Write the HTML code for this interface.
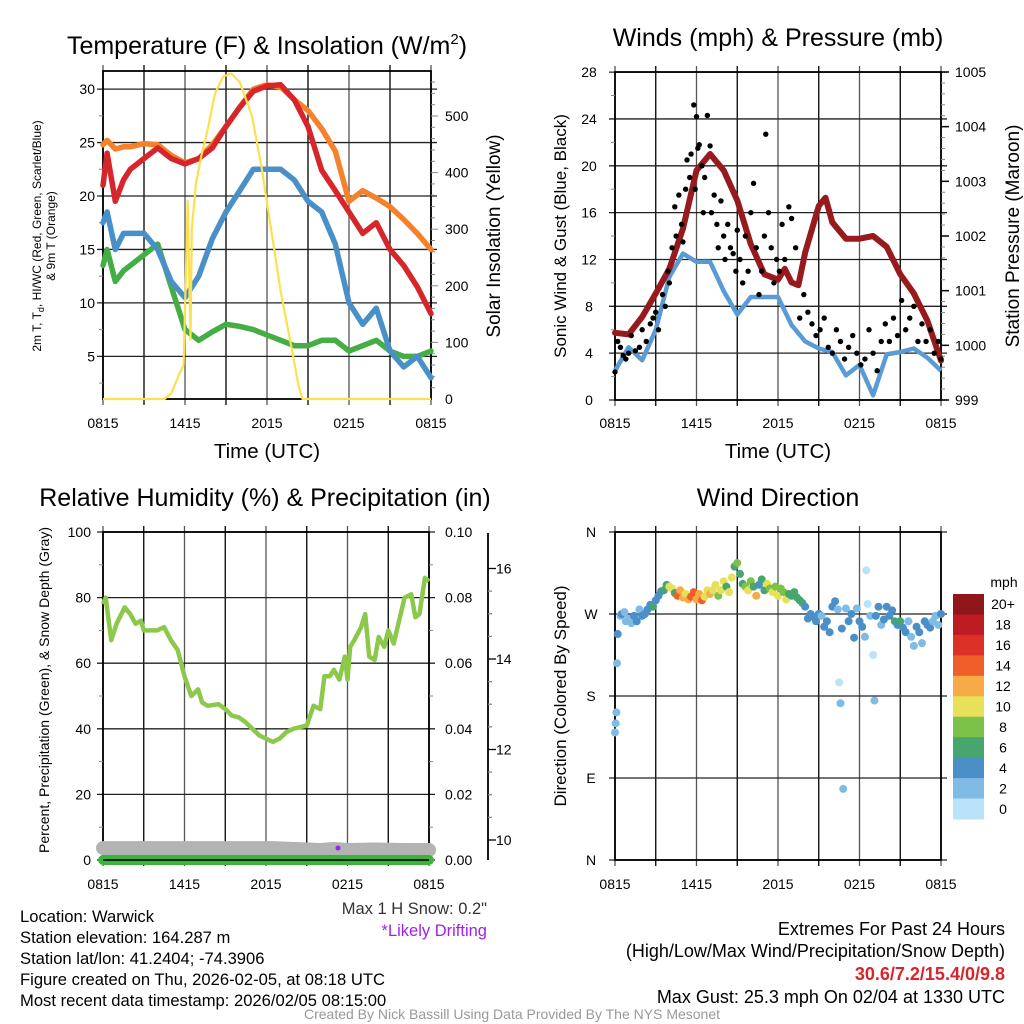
<!DOCTYPE html>
<html><head><meta charset="utf-8">
<style>
html,body{margin:0;padding:0;background:#fff;}
svg{display:block;font-family:"Liberation Sans",sans-serif;}
</style></head>
<body>
<svg id="s" width="1024" height="1024" viewBox="0 0 1024 1024" xmlns="http://www.w3.org/2000/svg">
<text x="267" y="54" font-size="25" text-anchor="middle">Temperature (F) &amp; Insolation (W/m<tspan font-size="15" dy="-10">2</tspan><tspan dy="10">)</tspan></text>
<text x="778" y="46" font-size="25" text-anchor="middle">Winds (mph) &amp; Pressure (mb)</text>
<text x="265" y="506" font-size="25" text-anchor="middle">Relative Humidity (%) &amp; Precipitation (in)</text>
<text x="778" y="506" font-size="25" text-anchor="middle">Wind Direction</text>

<text x="267" y="458" font-size="20.5" text-anchor="middle">Time (UTC)</text>
<text x="778" y="458" font-size="20.5" text-anchor="middle">Time (UTC)</text>

<text transform="translate(41,236) rotate(-90)" font-size="12" text-anchor="middle">2m T, T<tspan font-size="9" dy="3">d</tspan><tspan dy="-3">, HI/WC (Red, Green, Scarlet/Blue)</tspan></text>
<text transform="translate(55,236) rotate(-90)" font-size="12" text-anchor="middle">&amp; 9m T (Orange)</text>
<text transform="translate(500,236) rotate(-90)" font-size="19" text-anchor="middle">Solar Insolation (Yellow)</text>
<text transform="translate(566,236) rotate(-90)" font-size="17" text-anchor="middle">Sonic Wind &amp; Gust (Blue, Black)</text>
<text transform="translate(1019,236) rotate(-90)" font-size="19" text-anchor="middle">Station Pressure (Maroon)</text>
<text transform="translate(49,690) rotate(-90)" font-size="14" text-anchor="middle">Percent, Precipitation (Green), &amp; Snow Depth (Gray)</text>
<text transform="translate(566,696) rotate(-90)" font-size="17" text-anchor="middle">Direction (Colored By Speed)</text>

<g font-size="16.6">
<text x="20" y="922">Location: Warwick</text>
<text x="20" y="943">Station elevation: 164.287 m</text>
<text x="20" y="964">Station lat/lon: 41.2404; -74.3906</text>
<text x="20" y="985">Figure created on Thu, 2026-02-05, at 08:18 UTC</text>
<text x="20" y="1006">Most recent data timestamp: 2026/02/05 08:15:00</text>
</g>
<text x="487" y="914" font-size="16.5" fill="#333" text-anchor="end">Max 1 H Snow: 0.2"</text>
<text x="487" y="936" font-size="16.5" fill="#a020f0" text-anchor="end">*Likely Drifting</text>
<g font-size="18" text-anchor="end">
<text x="1005" y="935">Extremes For Past 24 Hours</text>
<text x="1005" y="957">(High/Low/Max Wind/Precipitation/Snow Depth)</text>
<text x="1005" y="980" font-weight="bold" fill="#d7262b">30.6/7.2/15.4/0/9.8</text>
<text x="1005" y="1003">Max Gust: 25.3 mph On 02/04 at 1330 UTC</text>
</g>
<text x="512" y="1019" font-size="14" fill="#999" text-anchor="middle">Created By Nick Bassill Using Data Provided By The NYS Mesonet</text>
<g id="plots"></g>
</svg>
<script>
// ---------- DATA ----------
const timeLabels = ["0815","1415","2015","0215","0815"];
const tempHours = [0,0.3,0.9,1.5,2,3,4,5,6,7,8,9,10,11,12,13,14,15,16,17,18,19,20,21,22,23,24];
const temp9m = [24.8,25.2,24.4,24.6,24.6,24.9,24.8,23.8,23.1,23.5,24.8,26.5,28.3,30.0,30.4,30.2,29.0,28.0,26.3,24.2,19.5,20.5,19.8,19.0,17.8,16.5,15.0];
const temp2m = [21.0,24.0,19.5,21.5,22.5,23.5,24.5,23.5,23.0,23.5,24.5,26.5,28.3,29.8,30.3,30.4,29.0,26.5,22.4,20.5,18.5,16.5,17.5,15.0,13.5,11.5,9.0];
const hiwc = [17.5,18.5,15.0,16.5,16.5,16.5,15.0,12.0,10.5,12.5,16.0,18.5,20.5,22.5,22.5,22.5,21.5,19.5,18.5,15.5,10.0,8.0,9.5,5.5,4.0,5.0,3.0];
const dewpt = [13.5,15.0,12.0,13.0,13.5,14.5,15.5,11.5,7.5,6.5,7.3,8.0,7.8,7.5,7.0,6.5,6.0,6.0,6.5,6.5,5.5,6.0,6.5,5.5,5.0,5.0,5.5];
const solarHours = [0,4.5,5.0,5.6,5.9,6.2,6.4,6.5,6.8,7.2,7.6,8.2,8.8,9.4,10.0,10.9,11.6,12.3,13.0,13.8,14.3,14.6,24];
const solarValues = [0,0,10,45,60,350,105,300,380,430,470,540,570,575,560,500,410,300,190,90,25,0,0];

const windHours = [0,1,2,3,4,5,6,7,8,9,10,11,12,13,14,15,16,17,18,19,20,21,22,23,24];
const sonicWind = [2.5,4.5,3.4,6.0,10.5,12.5,11.8,11.8,9.3,7.3,8.8,8.8,8.8,6.4,5.0,4.4,4.1,2.1,3.0,0.4,3.9,4.1,4.4,3.6,2.5];
const presHours = [0,1,2,3,4,5,6,7,8,9,10,11,12,12.5,13,13.5,14,15,15.5,16,17,18,19,20,21,22,23,24];
const pressure = [1000.23,1000.2,1000.52,1000.95,1001.4,1002.13,1003.2,1003.5,1003.2,1002.65,1001.85,1001.3,1001.2,1001.4,1001.15,1001.1,1001.7,1002.55,1002.7,1002.25,1001.95,1001.95,1002.0,1001.8,1001.3,1000.95,1000.45,999.72];
const gustHours = [0,0.2,0.4,0.6,0.8,1.0,1.2,1.5,1.8,2.0,2.3,2.6,2.8,3.0,3.2,3.5,3.7,3.9,4.0,4.2,4.4,4.5,4.7,4.9,5.0,5.2,5.3,5.5,5.6,5.8,5.9,6.0,6.1,6.2,6.4,6.5,6.6,6.8,7.0,7.1,7.3,7.5,7.6,7.8,8.0,8.1,8.3,8.5,8.7,8.9,9.0,9.2,9.4,9.6,9.8,10.0,10.2,10.4,10.6,10.8,11.0,11.1,11.3,11.5,11.7,11.9,12.1,12.3,12.5,12.8,13.0,13.3,13.6,13.9,14.2,14.5,14.8,15.1,15.4,15.7,16.0,16.3,16.6,16.9,17.2,17.5,17.8,18.1,18.4,18.7,19.0,19.3,19.6,19.9,20.2,20.5,20.8,21.1,21.4,21.7,22.0,22.3,22.6,22.9,23.2,23.5,23.8,24.0];
const gustValues = [2.4,5,4.5,3.8,3.5,4,5.5,4.2,4.5,6,5,6.5,7,7.5,6,9,8,11,10,13,16.5,14,17.5,15,13.5,18,20.5,19,21,25.2,18,24.2,21.5,21.8,20,16,19,24.3,21.7,16,17.5,15,13,17,14,12,15,13,12.5,11,14.5,12,10,14,11,16,18.5,13,9,11,14,22.7,16,13,10,12,11,15,12,16.5,15.5,13,7,9,7.5,6.5,5.5,6,7,4.5,4,6,5,3.5,4.5,5.5,4,3,3.5,6,4,2.5,5,6.5,5,7,5.5,8.5,6,7,8,5,6.5,5,6,4,5,3.5];

const rhHours = [0,0.2,0.6,1,1.6,2,2.4,2.8,3,4,4.5,5,5.5,6,6.5,7,7.3,7.7,8.5,9,9.5,10,10.5,11,11.5,12,12.5,13,13.5,14,14.5,15,15.5,16,16.3,16.7,17,17.4,17.8,18,18.2,18.5,19,19.3,19.6,20,20.3,20.7,21,21.4,21.8,22.2,22.7,23,23.3,23.7,24];
const rhValues = [78,80,67,72,77,75,72,73,70,70,71,67,64,56,50,52,48,47,47.5,46,44,43.5,42,40,38,37,36,37,39,40,40.5,41,47,46,56,56,58,55,62,55,65,67,71,75,62,61,68,65,70,66,73,80,81,74,75,86,85];
const snowHours = [0,12.5,16,17,18,20,22,24];
const snowDepth = [9.82,9.82,9.78,9.8,9.78,9.79,9.78,9.78];
const precipHours = [0,24];
const precipValues = [0,0];

const dirHours = [0,0.05,0.1,0.15,0.2,0.4,0.5,0.7,0.8,1.0,1.2,1.4,1.6,1.8,2.0,2.2,2.4,2.6,2.8,3.0,3.2,3.4,3.6,3.8,4.0,4.2,4.4,4.6,4.8,5.0,5.2,5.4,5.6,5.8,6.0,6.2,6.4,6.6,6.8,7.0,7.2,7.4,7.6,7.8,8.0,8.2,8.4,8.6,8.8,9.0,9.2,9.4,9.6,9.8,10.0,10.2,10.4,10.6,10.8,11.0,11.2,11.4,11.6,11.8,12.0,12.2,12.4,12.6,12.8,13.0,13.2,13.4,13.6,13.8,14.0,14.2,14.4,14.6,14.8,15.0,15.2,15.4,15.6,15.8,16.0,16.2,16.4,16.5,16.6,16.7,16.8,17.0,17.2,17.4,17.6,17.8,18.0,18.2,18.4,18.5,18.6,18.8,19.0,19.1,19.2,19.4,19.6,19.8,20.0,20.2,20.4,20.6,20.8,21.0,21.2,21.4,21.6,21.8,22.0,22.2,22.4,22.6,22.8,23.0,23.2,23.4,23.6,23.8,24.0];
const dirDegrees = [140,150,162,216,248,268,270,272,262,265,260,268,262,275,268,270,275,280,278,285,290,295,296,302,300,298,293,290,296,288,292,286,289,294,286,292,285,289,296,292,296,302,290,296,306,300,294,310,322,326,314,303,300,296,306,300,290,302,308,296,303,298,294,300,290,298,294,286,292,290,294,288,285,282,278,265,270,267,262,270,268,256,262,250,278,284,275,195,172,254,78,276,262,270,244,276,262,256,245,318,281,268,225,175,268,278,258,264,278,268,274,262,258,262,255,250,262,245,235,256,250,238,262,258,255,262,268,258,270];
const dirSpeeds = [3,3,3,3,4,3,4,3,3,3,3,4,4,3,5,4,4,4,6,4,4,5,6,7,10,10,7,14,13,12,11,13,14,14,13,12,14,11,11,12,10,10,8,10,10,6,10,10,7,8,6,7,8,10,8,6,12,5,6,7,10,8,10,9,11,8,8,10,6,7,6,6,6,6,5,5,5,5,4,5,3,5,4,5,5,5,3,1,3,4,3,3,4,4,4,3,5,4,3,1,1,3,1,2,5,4,3,4,5,5,4,6,5,7,5,5,3,3,3,5,4,3,5,4,5,3,3,3,4];
const speedBinLabels = ["20+","18","16","14","12","10","8","6","4","2","0"];
const speedBinColors = ["#8f1719","#bd1c24","#dc3127","#ef5f2a","#f7ab46","#e6e158","#7cc24a","#47a56e","#4a8fc7","#7fbbe5","#b9e3f8"];

// ---------- HELPERS ----------
const NS="http://www.w3.org/2000/svg";
const root=document.getElementById('plots');
function mk(tag,attrs,parent){const e=document.createElementNS(NS,tag);for(const k in attrs)e.setAttribute(k,attrs[k]);(parent||root).appendChild(e);return e;}
function lineD(xs,ys,fx,fy){let d="";for(let i=0;i<Math.min(xs.length,ys.length);i++){d+=(i?"L":"M")+fx(xs[i]).toFixed(1)+","+fy(ys[i]).toFixed(1);}return d;}
function txt(x,y,s,attrs,parent){const t=mk('text',Object.assign({x:x,y:y},attrs||{}),parent);t.textContent=s;return t;}

function panelFrame(L,R,T,B,name,hTicks){
  const g=mk('g',{});
  
  
  for(let i=0;i<=8;i++){const x=L+(R-L)*i/8;
    mk('line',{x1:x,x2:x,y1:T-6,y2:B+6,stroke:i%2?'#000':'#555','stroke-width':1.3},g);}
  hTicks.forEach(y=>{mk('line',{x1:L-6,x2:R+6,y1:y,y2:y,stroke:'#222','stroke-width':1.3},g);});
  mk('rect',{x:L,y:T,width:R-L,height:B-T,fill:'none',stroke:'#000','stroke-width':1.8},g);
  return g;
}
function xLabels(L,R,y,name){
  timeLabels.forEach((s,i)=>{const t=txt(L+(R-L)*i/4,y,s,{'font-size':14,'text-anchor':'middle'});
    
    });
}

// ---------- TEMPERATURE ----------
(function(){
  const L=103,R=431,T=71,B=399;
  const x=t=>L+t*(R-L)/24, yT=v=>409.8-v*10.69, yI=v=>399-v*0.566;
  const ticks=[5,10,15,20,25,30];
  panelFrame(L,R,T,B,'temperature',ticks.map(yT));
  for(let v=2.5;v<32;v+=2.5){if(v%5)mk('line',{x1:L-4,x2:L,y1:yT(v),y2:yT(v),stroke:'#888'});}
  for(let v=20;v<575;v+=20){mk('line',{x1:R,x2:R+(v%100?4:7),y1:yI(v),y2:yI(v),stroke:'#888'});}
  ticks.forEach(v=>{const t=txt(L-8,yT(v)+5,String(v),{'font-size':14,'text-anchor':'end'});});
  [0,100,200,300,400,500].forEach(v=>{const t=txt(R+14,yI(v)+5,String(v),{'font-size':14});});
  xLabels(L,R,428,'temp-x');
  const series=[[dewpt,'#44ad44','dewpoint-line'],[hiwc,'#4a90c8','heat-index-windchill-line'],[temp9m,'#f5822a','temp-9m-line'],[temp2m,'#d7262b','temp-2m-line']];
  series.forEach(s=>{const p=mk('path',{d:lineD(tempHours,s[0],x,yT),fill:'none',stroke:s[1],'stroke-width':5.5,'stroke-linejoin':'round','stroke-linecap':'round'});
    
    });
  const sp=mk('path',{d:lineD(solarHours,solarValues,x,yI),fill:'none',stroke:'#fde050','stroke-width':2.2,'stroke-linejoin':'round'});
  
  
})();

// ---------- WINDS ----------
(function(){
  const L=615,R=941,T=72,B=400;
  const x=t=>L+t*(R-L)/24, yW=v=>400-v*11.71, yP=p=>400-(p-999)*54.67;
  const ticks=[0,4,8,12,16,20,24,28];
  panelFrame(L,R,T,B,'winds',ticks.map(yW));
  for(let v=2;v<28;v+=4)mk('line',{x1:L-4,x2:L,y1:yW(v),y2:yW(v),stroke:'#888'});
  for(let p=999.2;p<1005;p+=0.2)mk('line',{x1:R,x2:R+4,y1:yP(p),y2:yP(p),stroke:'#888'});
  for(let p=999;p<=1005;p++)mk('line',{x1:R,x2:R+8,y1:yP(p),y2:yP(p),stroke:'#000','stroke-width':1.5});
  ticks.forEach(v=>{const t=txt(L-26,yW(v)+5,String(v),{'font-size':14,'text-anchor':'middle'});});
  for(let p=999;p<=1005;p++){const t=txt(R+14,yP(p)+5,String(p),{'font-size':14});}
  xLabels(L,R,428,'wind-x');
  const bw=mk('path',{d:lineD(windHours,sonicWind,x,yW),fill:'none',stroke:'#5a9bd5','stroke-width':4.5,'stroke-linejoin':'round'});
  
  
  const pl=mk('path',{d:lineD(presHours,pressure,x,yP),fill:'none',stroke:'#971b1e','stroke-width':6,'stroke-linejoin':'round','stroke-linecap':'round'});
  
  
  const gg=mk('g',{});
  
  
  for(let i=0;i<Math.min(gustHours.length,gustValues.length);i++){
    const c=mk('circle',{cx:x(gustHours[i]),cy:yW(gustValues[i]),r:2.7,fill:'#000'},gg);
    
    
  }
})();

// ---------- RH ----------
(function(){
  const L=103,R=429,T=532,B=860;
  const x=t=>L+t*(R-L)/24, yR=v=>860-v*3.28, yS=s=>840-(s-10)*45.25;
  const ticks=[0,20,40,60,80,100];
  panelFrame(L,R,T,B,'rh',ticks.map(yR));
  for(let v=10;v<100;v+=20){mk('line',{x1:L-4,x2:L,y1:yR(v),y2:yR(v),stroke:'#888'});mk('line',{x1:R,x2:R+4,y1:yR(v),y2:yR(v),stroke:'#888'});}
  ticks.forEach(v=>{const t=txt(L-12,yR(v)+5,String(v),{'font-size':14,'text-anchor':'end'});});
  ticks.forEach(v=>{const t=txt(R+16,yR(v)+5,(v/1000).toFixed(2),{'font-size':14});});
  const sa=mk('line',{x1:488,x2:488,y1:T+1,y2:B,stroke:'#000','stroke-width':1.8});
  
  
  for(let s=10;s<=16;s+=0.5){mk('line',{x1:488,x2:488+(s%2?4:8),y1:yS(s),y2:yS(s),stroke:s%2?'#888':'#000','stroke-width':1.3});}
  [10,12,14,16].forEach(s=>{const t=txt(496,yS(s)+5,String(s),{'font-size':14});});
  xLabels(L,R,889,'rh-x');
  const sn=mk('path',{d:lineD(snowHours,snowDepth,x,yS),fill:'none',stroke:'#b3b3b3','stroke-width':14,'stroke-linecap':'round','stroke-linejoin':'round'});
  
  
  const pr=mk('path',{d:lineD(precipHours,precipValues,x,v=>yR(v*1000)),fill:'none',stroke:'#3db33d','stroke-width':10,'stroke-linecap':'round'});
  
  
  mk('line',{x1:L,x2:R,y1:B,y2:B,stroke:'#000','stroke-width':1.5});
  const dp=mk('circle',{cx:x(17.3),cy:848,r:2.5,fill:'#a020f0'});
  
  
  const rl=mk('path',{d:lineD(rhHours,rhValues,x,yR),fill:'none',stroke:'#8cc84b','stroke-width':4.5,'stroke-linejoin':'round'});
  
  
})();

// ---------- WIND DIRECTION ----------
(function(){
  const L=615,R=941,T=532,B=860;
  const x=t=>L+t*(R-L)/24, yD=d=>860-d*328/360;
  const dirs=[0,90,180,270,360], names=["N","E","S","W","N"];
  panelFrame(L,R,T,B,'direction',dirs.map(yD));
  dirs.forEach((d,i)=>{const t=txt(L-24,yD(d)+5,names[i],{'font-size':14,'text-anchor':'middle'});});
  xLabels(L,R,889,'direction-x');
  const g=mk('g',{});
  
  
  const n=Math.min(dirHours.length,dirDegrees.length,dirSpeeds.length);
  for(let i=0;i<n;i++){
    const bin=Math.min(10,Math.floor(dirSpeeds[i]/2));
    const c=mk('circle',{cx:x(dirHours[i]),cy:yD(dirDegrees[i]),r:4,fill:speedBinColors[10-bin]},g);
    
    
  }
  const cb=mk('g',{});
  
  
  const cT=594,cH=225/11;
  speedBinColors.forEach((c,i)=>{const r=mk('rect',{x:953,y:cT+i*cH,width:31,height:cH+0.5,fill:c},cb);
    
    });
  speedBinLabels.forEach((s,i)=>{const t=txt(1003,cT+(i+0.5)*cH+5,s,{'font-size':14,'text-anchor':'middle'},cb);
    
    });
  const u=txt(1004,587,'mph',{'font-size':14,'text-anchor':'middle'},cb);
  
  
})();
</script>
</body></html>
